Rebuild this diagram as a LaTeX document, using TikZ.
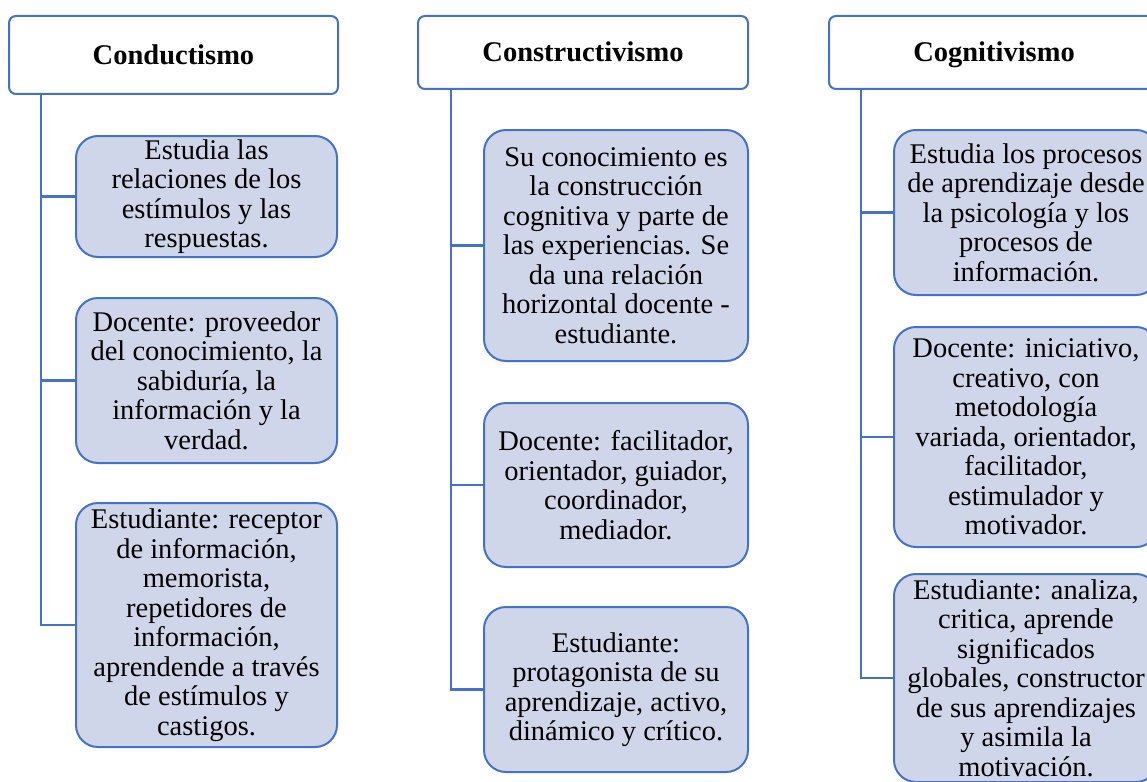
\documentclass[tikz,border=0pt]{standalone}
\usepackage{fontspec}
\setmainfont{Liberation Serif}
\usepackage{tikz}
\definecolor{lineblue}{RGB}{68,114,196}
\definecolor{boxfill}{RGB}{208,214,234}

\begin{document}
\begin{tikzpicture}[x=1pt, y=-1pt,
    every node/.style={font=\fontsize{28.5}{29.5}\selectfont, align=center},
    head/.style={draw=lineblue, line width=2pt, fill=white, rounded corners=7pt, text height=19pt, text depth=0pt, font=\fontsize{28.5}{29.5}\selectfont\bfseries},
    item/.style={draw=lineblue, line width=2pt, fill=boxfill, rounded corners=22pt, inner sep=1pt},
    link/.style={draw=lineblue, line width=2.2pt}]
    % Page
    \useasboundingbox (0,0) rectangle (1147,781);
    \clip (0,0) rectangle (1147,781);

    % Headers
    \node[head, minimum width=329pt, minimum height=78pt] (hA) at (173.5,55) {Conductismo};
    \node[head, minimum width=330pt, minimum height=73pt] (hB) at (583,52.5) {Constructivismo};
    \node[head, minimum width=330pt, minimum height=73pt] (hC) at (994,52.5) {Cognitivismo};

    % Trunk tops
    \coordinate (tA) at ([xshift=33pt]hA.south west);
    \coordinate (tB) at ([xshift=34pt]hB.south west);
    \coordinate (tC) at ([xshift=33pt]hC.south west);

    % Conductismo
    \node[item, minimum width=261pt, minimum height=121pt] (a1) at (206.5,196.5)
        {Estudia las\\relaciones de los\\estímulos y las\\respuestas.};
    \node[item, minimum width=261pt, minimum height=165pt] (a2) at (206.5,380.5)
        {Docente: proveedor\\del conocimiento, la\\sabiduría, la\\información y la\\verdad.};
    \node[item, minimum width=261pt, minimum height=244pt] (a3) at (206.5,625)
        {Estudiante: receptor\\de información,\\memorista,\\repetidores de\\información,\\aprendende a través\\de estímulos y\\castigos.};

    % Constructivismo
    \node[item, minimum width=264pt, minimum height=231pt] (b1) at (616,245.5)
        {Su conocimiento es\\la construcción\\cognitiva y parte de\\las experiencias. Se\\da una relación\\horizontal docente -\\estudiante.};
    \node[item, minimum width=264pt, minimum height=164pt] (b2) at (616,485)
        {Docente: facilitador,\\orientador, guiador,\\coordinador,\\mediador.};
    \node[item, minimum width=264pt, minimum height=165pt] (b3) at (616,689.5)
        {Estudiante:\\protagonista de su\\aprendizaje, activo,\\dinámico y crítico.};

    % Cognitivismo
    \node[item, minimum width=264pt, minimum height=165pt] (c1) at (1026,212.5)
        {Estudia los procesos\\de aprendizaje desde\\la psicología y los\\procesos de\\información.};
    \node[item, minimum width=264pt, minimum height=220pt] (c2) at (1026,437)
        {Docente: iniciativo,\\creativo, con\\metodología\\variada, orientador,\\facilitador,\\estimulador y\\motivador.};
    \node[item, minimum width=264pt, minimum height=208pt] (c3) at (1026,678)
        {Estudiante: analiza,\\critica, aprende\\significados\\globales, constructor\\de sus aprendizajes\\y asimila la\\motivación.};

    % Connectors
    \foreach \n in {a1,a2,a3}
    {
        \draw[link] (tA) |- (\n.west);
    }
    \foreach \n in {b1,b2,b3}
    {
        \draw[link] (tB) |- (\n.west);
    }
    \foreach \n in {c1,c2,c3}
    {
        \draw[link] (tC) |- (\n.west);
    }
\end{tikzpicture}
\end{document}
